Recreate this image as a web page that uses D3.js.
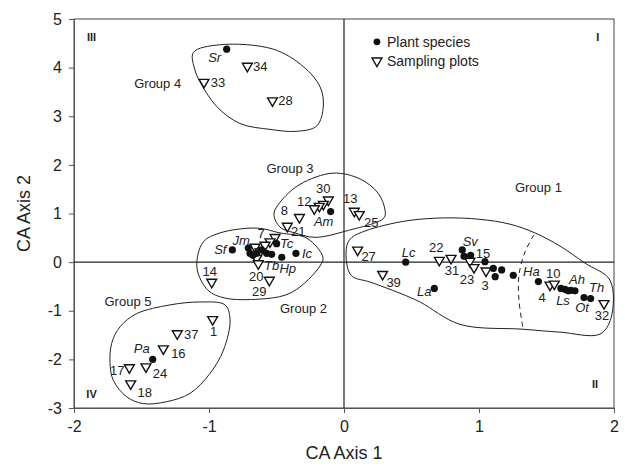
<!DOCTYPE html>
<html>
<head>
<meta charset="utf-8">
<script src="https://cdn.jsdelivr.net/npm/d3@7"></script>
<style>
  body { margin: 0; background: #fff; }
  svg text { font-family: "Liberation Sans", Arial, sans-serif; }
</style>
</head>
<body>
<div class="chart"></div>
<script>
//Plant species scores on CA axes 1 and 2 (empty name = unlabelled dot)
const speciesNames = ["Sr", "Am", "Sf", "Jm", "", "", "", "", "", "Tb", "Tc", "Hp", "Ic", "Pa",
    "Lc", "La", "Sv", "", "", "", "", "", "", "", "Ha", "", "Ls", "", "", "Ah", "Ot", "Th"];
const speciesX = [-0.869, -0.099, -0.827, -0.709, -0.696, -0.676, -0.647, -0.61, -0.573, -0.536, -0.499, -0.461, -0.356, -1.417,
    0.457, 0.669, 0.876, 0.889, 0.938, 1.044, 1.106, 1.12, 1.168, 1.254, 1.44, 1.607, 1.637, 1.66, 1.68, 1.711, 1.778, 1.827];
const speciesY = [4.38, 1.04, 0.25, 0.29, 0.18, 0.14, 0.18, 0.25, 0.18, 0.16, 0.38, 0.10, 0.18, -2.0,
    0.0, -0.54, 0.25, 0.12, 0.14, 0.01, -0.13, -0.30, -0.16, -0.27, -0.40, -0.54, -0.56, -0.59, -0.58, -0.59, -0.73, -0.75];

//Sampling plot scores
const plotNames = ["34", "33", "28", "30", "", "", "12", "8", "21", "13", "25",
    "7", "", "", "", "", "", "20", "29", "14",
    "1", "37", "16", "24", "17", "18",
    "27", "39", "22", "31", "15", "23", "3", "4", "10", "32"];
const plotX = [-0.716, -1.037, -0.53, -0.116, -0.153, -0.183, -0.22, -0.33, -0.42, 0.076, 0.113,
    -0.511, -0.548, -0.585, -0.659, -0.622, -0.647, -0.635, -0.553, -0.98,
    -0.973, -1.235, -1.338, -1.467, -1.59, -1.58,
    0.101, 0.286, 0.706, 0.793, 0.933, 0.963, 1.052, 1.526, 1.558, 1.926];
const plotY = [4.03, 3.70, 3.32, 1.28, 1.19, 1.15, 1.10, 0.92, 0.74, 1.05, 0.98,
    0.51, 0.42, 0.35, 0.31, 0.21, 0.08, -0.03, -0.37, -0.41,
    -1.18, -1.47, -1.78, -2.15, -2.17, -2.50,
    0.25, -0.25, 0.04, 0.08, 0.02, -0.11, -0.18, -0.47, -0.45, -0.85];

//Group outlines, traced in CA units
const group1 = [[0.022, 0.35], [0.059, 0.51], [0.156, 0.64], [0.304, 0.76], [0.489, 0.86], [0.748, 0.91], [1.007, 0.88],
    [1.23, 0.78], [1.415, 0.60], [1.60, 0.33], [1.785, -0.02], [1.97, -0.37], [1.978, -1.15], [1.896, -1.48],
    [1.60, -1.44], [1.326, -1.38], [0.859, -1.28], [0.563, -0.82], [0.415, -0.64], [0.193, -0.41], [0.059, -0.29], [0.022, -0.06]];
const group1Split = [[1.407, 0.56], [1.341, 0.21], [1.296, -0.27], [1.296, -0.78], [1.326, -1.36]];
const group2 = [[-1.089, -0.12], [-1.044, 0.41], [-0.919, 0.60], [-0.644, 0.70], [-0.474, 0.60], [-0.274, 0.49], [-0.156, 0.10],
    [-0.178, -0.08], [-0.326, -0.51], [-0.437, -0.68], [-0.622, -0.76], [-0.881, -0.74], [-1.007, -0.58]];
const group3 = [[-0.519, 0.99], [-0.474, 1.23], [-0.326, 1.60], [-0.081, 1.83], [0.119, 1.71], [0.252, 1.42], [0.304, 1.07],
    [0.296, 0.91], [0.015, 0.64], [-0.215, 0.51], [-0.363, 0.60], [-0.474, 0.72]];
const group4 = [[-1.116, 4.31], [-0.919, 4.47], [-0.524, 4.38], [-0.301, 4.02], [-0.178, 3.61], [-0.153, 3.21], [-0.202, 2.80],
    [-0.35, 2.69], [-0.548, 2.73], [-0.77, 2.85], [-0.943, 3.20], [-1.067, 3.71], [-1.104, 3.95]];
const group5 = [[-1.659, -1.33], [-1.536, -1.06], [-1.289, -0.88], [-1.067, -0.82], [-0.881, -0.88], [-0.844, -1.19], [-0.893, -1.81],
    [-0.993, -2.29], [-1.141, -2.70], [-1.313, -2.87], [-1.487, -2.91], [-1.61, -2.77], [-1.709, -2.43], [-1.733, -2.08], [-1.721, -1.67]];

const groupNames = ["Group 1", "Group 2", "Group 3", "Group 4", "Group 5"];
const groupLabelX = [1.44, -0.30, -0.40, -1.38, -1.60];
const groupLabelY = [1.54, -0.95, 1.93, 3.68, -0.80];

const quadrantNames = ["I", "II", "III", "IV"];
const quadrantX = [1.88, 1.86, -1.87, -1.87];
const quadrantY = [4.63, -2.51, 4.63, -2.71];

const xTicks = [-2, -1, 0, 1, 2];
const yTicks = [-3, -2, -1, 0, 1, 2, 3, 4, 5];

//label nudges in px (dx, dy from the mark)
const labelNudge = {
    "Sr": [-12, 8], "Am": [-7, 10], "Sf": [-12, -1], "Jm": [-7, -8], "Tc": [10, 0], "Ic": [11, 0],
    "Tb": [0, 11], "Hp": [6, 11], "Pa": [-11, -11], "Lc": [3, -10], "La": [-10, 3], "Sv": [8, -9],
    "Ha": [-7, -10], "Ah": [2, -11], "Ls": [-2, 11], "Th": [6, -11], "Ot": [-2, 10],
    "34": [13, 0], "33": [14, 0], "28": [13, 0], "30": [-5, -11], "12": [-10, -7], "8": [-15, -7],
    "21": [11, 5], "13": [-4, -13], "25": [12, 8], "7": [-14, -4], "20": [-2, 13], "29": [-10, 11],
    "14": [-2, -11], "1": [1, 12], "37": [14, 1], "16": [15, 5], "24": [14, 7], "17": [-12, 3],
    "18": [14, 9], "27": [11, 6], "39": [11, 8], "22": [-3, -13], "31": [1, 12], "15": [13, -8],
    "23": [-7, 12], "3": [-1, 15], "4": [-8, 12], "10": [-1, -11], "32": [-2, 12]
};

let chart = {};

chart.margin = { top: 19, right: 11, bottom: 58, left: 74 };
chart.width = 625 - chart.margin.left - chart.margin.right;
chart.height = 466 - chart.margin.top - chart.margin.bottom;

chart.x = d3.scaleLinear().domain([-2, 2]).range([0, chart.width]);
chart.y = d3.scaleLinear().domain([-3, 5]).range([chart.height, 0]);

chart.svg = d3.select(".chart").append("svg")
    .attr("width", 625)
    .attr("height", 466);

chart.plot = chart.svg.append("g")
    .attr("transform", `translate(${chart.margin.left},${chart.margin.top})`);

//frame
chart.plot.append("rect")
    .attr("width", chart.width)
    .attr("height", chart.height)
    .attr("fill", "none")
    .attr("stroke", "#444")
    .attr("stroke-width", 1);

//axes
let xAxis = chart.plot.append("g")
    .attr("transform", `translate(0,${chart.height})`)
    .call(d3.axisBottom(chart.x).tickValues(xTicks).tickSize(5).tickPadding(8).tickFormat(d => String(d)));
let yAxis = chart.plot.append("g")
    .call(d3.axisLeft(chart.y).tickValues(yTicks).tickSize(5).tickPadding(7).tickFormat(d => String(d)));

[xAxis, yAxis].forEach(a => {
    a.select(".domain").attr("stroke", "#555");
    a.selectAll(".tick line").attr("stroke", "#555");
    a.selectAll("text").attr("font-size", 16).attr("fill", "#222")
        .style("font-family", "'Liberation Sans', Arial, sans-serif");
});

//zero lines
chart.plot.append("line")
    .attr("x1", chart.x(0)).attr("x2", chart.x(0))
    .attr("y1", 0).attr("y2", chart.height)
    .attr("stroke", "#222").attr("stroke-width", 1.2);
chart.plot.append("line")
    .attr("x1", 0).attr("x2", chart.width)
    .attr("y1", chart.y(0)).attr("y2", chart.y(0))
    .attr("stroke", "#222").attr("stroke-width", 1.2);

//axis titles
chart.svg.append("text")
    .attr("x", chart.margin.left + chart.x(0))
    .attr("y", 459)
    .attr("text-anchor", "middle")
    .attr("font-size", 18)
    .attr("fill", "#222")
    .text("CA Axis 1");
chart.svg.append("text")
    .attr("transform", `translate(30,${chart.margin.top + chart.y(1)}) rotate(-90)`)
    .attr("text-anchor", "middle")
    .attr("font-size", 18)
    .attr("fill", "#222")
    .text("CA Axis 2");

//group outlines
let hull = d3.line()
    .x(d => chart.x(d[0]))
    .y(d => chart.y(d[1]))
    .curve(d3.curveCatmullRomClosed.alpha(0.5));

chart.plot.selectAll("path.group")
    .data([group1, group2, group3, group4, group5]).enter()
    .append("path")
    .attr("class", "group")
    .attr("d", hull)
    .attr("fill", "none")
    .attr("stroke", "#222")
    .attr("stroke-width", 1);

chart.plot.append("path")
    .attr("d", d3.line().x(d => chart.x(d[0])).y(d => chart.y(d[1])).curve(d3.curveCatmullRom)(group1Split))
    .attr("fill", "none")
    .attr("stroke", "#222")
    .attr("stroke-width", 1)
    .attr("stroke-dasharray", "5,4");

chart.plot.selectAll("text.group")
    .data(groupNames).enter()
    .append("text")
    .attr("class", "group")
    .attr("x", (d, i) => chart.x(groupLabelX[i]))
    .attr("y", (d, i) => chart.y(groupLabelY[i]))
    .attr("text-anchor", "middle")
    .attr("dy", "0.35em")
    .attr("font-size", 13)
    .attr("fill", "#222")
    .text(d => d);

chart.plot.selectAll("text.quad")
    .data(quadrantNames).enter()
    .append("text")
    .attr("class", "quad")
    .attr("x", (d, i) => chart.x(quadrantX[i]))
    .attr("y", (d, i) => chart.y(quadrantY[i]))
    .attr("text-anchor", "middle")
    .attr("dy", "0.35em")
    .attr("font-size", 11)
    .attr("font-weight", "bold")
    .attr("fill", "#222")
    .text(d => d);

//sampling plots (down triangles)
let tri = d3.symbol().type(d3.symbolTriangle).size(42);

let plots = plotNames.map((n, i) => ({ name: n, x: plotX[i], y: plotY[i] }));
chart.plot.selectAll("path.plotpt")
    .data(plots).enter()
    .append("path")
    .attr("class", "plotpt")
    .attr("d", tri)
    .attr("transform", d => `translate(${chart.x(d.x)},${chart.y(d.y)}) rotate(180)`)
    .attr("fill", "#fff")
    .attr("stroke", "#111")
    .attr("stroke-width", 1.4);

//plant species (dots)
let species = speciesNames.map((n, i) => ({ name: n, x: speciesX[i], y: speciesY[i] }));
chart.plot.selectAll("circle.sp")
    .data(species).enter()
    .append("circle")
    .attr("class", "sp")
    .attr("cx", d => chart.x(d.x))
    .attr("cy", d => chart.y(d.y))
    .attr("r", 3.6)
    .attr("fill", "#111");

//labels
function addLabels(list, italic) {
    chart.plot.selectAll(null)
        .data(list.filter(d => d.name !== "")).enter()
        .append("text")
        .attr("x", d => chart.x(d.x) + (labelNudge[d.name] || [8, 0])[0])
        .attr("y", d => chart.y(d.y) + (labelNudge[d.name] || [8, 0])[1])
        .attr("dy", "0.35em")
        .attr("text-anchor", "middle")
        .attr("font-size", 13)
        .attr("font-style", italic ? "italic" : "normal")
        .attr("fill", "#222")
        .text(d => d.name);
}
addLabels(species, true);
addLabels(plots, false);

//legend
let legend = chart.plot.append("g")
    .attr("transform", `translate(${chart.x(0.244)},${chart.y(4.53)})`);
legend.append("circle").attr("cx", 0).attr("cy", 0).attr("r", 3.4).attr("fill", "#111");
legend.append("text").attr("x", 10).attr("y", 0).attr("dy", "0.35em")
    .attr("font-size", 14).attr("fill", "#222").text("Plant species");
legend.append("path").attr("d", tri)
    .attr("transform", "translate(0,19) rotate(180)")
    .attr("fill", "#fff").attr("stroke", "#111").attr("stroke-width", 1.4);
legend.append("text").attr("x", 10).attr("y", 19).attr("dy", "0.35em")
    .attr("font-size", 14).attr("fill", "#222").text("Sampling plots");
</script>
</body>
</html>
